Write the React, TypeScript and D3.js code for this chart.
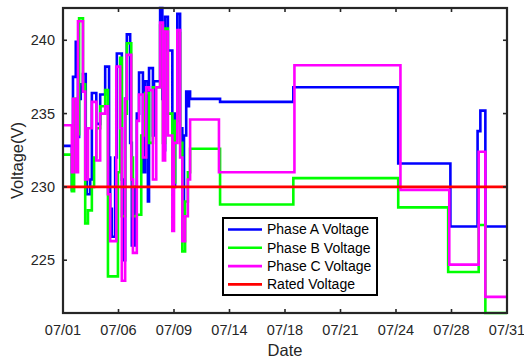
import React, { useRef, useEffect } from "react";
import * as d3 from "d3";

// x is measured in tick steps of 10 (0 = 07/01 ... 80 = 07/31)
const tickLabels = ["07/01", "07/06", "07/09", "07/14", "07/18", "07/21", "07/24", "07/28", "07/31"];
const yTicks = [225, 230, 235, 240];

const phaseA: [number, number][] = [
    [0, 232.8], [1.6, 229.8], [1.8, 237.5], [2.3, 239.9], [2.7, 233.4], [2.9, 236.0], [3.2, 237.0],
    [3.6, 237.7], [4.1, 233.0], [4.3, 229.5], [4.9, 230.5], [5.2, 236.4], [6.0, 234.3], [6.7, 236.3],
    [7.6, 238.2], [8.3, 232.0], [8.5, 228.5], [8.8, 226.6], [9.4, 232.0], [9.7, 239.1], [10.6, 230.5],
    [10.8, 225.0], [11.2, 236.0], [11.5, 240.4], [12.1, 233.0], [12.4, 226.0], [13.0, 230.0],
    [13.3, 235.0], [13.7, 237.8], [14.4, 231.0], [14.8, 237.2], [15.3, 229.0], [15.5, 238.1],
    [16.2, 233.5], [16.4, 237.2], [17.5, 242.2], [17.9, 236.0], [18.2, 232.5], [18.4, 241.6],
    [18.9, 239.3], [19.7, 231.5], [20.0, 230.0], [20.2, 235.0], [20.6, 241.8], [21.1, 234.0],
    [21.5, 228.0], [21.8, 233.5], [22.2, 236.5], [22.4, 235.5], [22.7, 236.5], [22.9, 236.0],
    [28.3, 235.8], [41.5, 236.8], [60.4, 231.6], [69.8, 227.3], [74.7, 233.8], [75.2, 235.2],
    [76.1, 227.3], [80, 227.3],
];

const phaseB: [number, number][] = [
    [0, 232.2], [1.6, 229.7], [2.0, 236.0], [2.3, 233.6], [2.9, 241.5], [3.6, 237.0], [4.0, 227.5],
    [4.5, 228.4], [5.2, 230.0], [5.6, 232.0], [6.0, 234.0], [6.7, 235.5], [7.6, 236.6], [8.1, 223.9],
    [9.9, 231.0], [10.3, 238.8], [10.6, 228.0], [11.2, 235.0], [11.5, 239.8], [12.3, 232.0],
    [12.6, 228.0], [13.3, 228.1], [14.1, 233.5], [14.8, 236.4], [15.5, 233.0], [16.2, 236.8],
    [17.5, 241.0], [18.0, 233.0], [18.4, 240.8], [18.9, 235.0], [19.7, 230.3], [20.2, 234.5],
    [20.6, 240.5], [21.1, 233.0], [21.5, 225.6], [22.0, 229.0], [22.5, 231.0], [22.9, 232.6],
    [28.3, 228.8], [41.5, 230.6], [60.4, 228.6], [69.4, 224.2], [74.9, 227.4], [76.1, 221.4],
    [80, 221.4],
];

const phaseC: [number, number][] = [
    [0, 234.2], [1.6, 231.0], [1.8, 236.0], [2.3, 231.0], [2.7, 241.3], [3.6, 236.5], [4.0, 230.5],
    [4.5, 234.0], [5.2, 235.8], [6.0, 231.8], [6.7, 235.0], [7.6, 235.5], [8.1, 229.5], [8.5, 226.3],
    [9.6, 238.2], [10.3, 234.0], [10.6, 223.6], [11.2, 236.0], [11.5, 239.0], [12.3, 230.5],
    [12.6, 225.5], [13.3, 234.5], [13.7, 236.3], [14.4, 232.0], [15.0, 236.8], [15.5, 236.6],
    [16.2, 230.5], [16.8, 236.8], [17.5, 241.2], [18.0, 231.8], [18.4, 240.6], [18.9, 233.5],
    [19.7, 227.0], [20.0, 233.0], [20.6, 240.7], [21.1, 232.0], [21.5, 226.3], [22.0, 228.0],
    [22.5, 230.5], [22.9, 234.6], [28.1, 231.0], [41.7, 238.3], [60.8, 229.8], [69.6, 224.7],
    [74.9, 232.4], [76.1, 222.5], [80, 222.5],
];

const rated: [number, number][] = [[0, 230], [80, 230]];

const seriesNames = ["Phase A Voltage", "Phase B Voltage", "Phase C Voltage", "Rated Voltage"];
const seriesColors = ["#0000ff", "#00ff00", "#ff00ff", "#ff0000"];

const FONT = "'Liberation Sans', Arial, Helvetica, sans-serif";

const VoltageChart = () => {
    const svgRef = useRef<SVGSVGElement>(null);

    useEffect(() => {
        const svg = d3.select(svgRef.current);
        svg.selectAll("*").remove();

        const margin = { top: 8, right: 17, bottom: 47, left: 63 };
        const width = 524;
        const height = 360;
        const innerW = width - margin.left - margin.right;
        const innerH = height - margin.top - margin.bottom;

        const x = d3.scaleLinear().domain([0, 80]).range([0, innerW]);
        const y = d3.scaleLinear().domain([221.4, 242.2]).range([innerH, 0]);

        const g = svg.append("g").attr("transform", `translate(${margin.left},${margin.top})`);

        svg.append("defs")
            .append("clipPath")
            .attr("id", "plotClip")
            .append("rect")
            .attr("x", -2)
            .attr("y", -2)
            .attr("width", innerW + 4)
            .attr("height", innerH + 4);

        const line = d3
            .line<[number, number]>()
            .x((d) => x(d[0]))
            .y((d) => y(d[1]))
            .curve(d3.curveStepAfter);

        const allSeries = [phaseA, phaseB, phaseC, rated];
        const plot = g.append("g").attr("clip-path", "url(#plotClip)");
        allSeries.forEach((s, i) => {
            plot.append("path")
                .datum(s)
                .attr("d", line)
                .attr("fill", "none")
                .attr("stroke", seriesColors[i])
                .attr("stroke-width", 2.6)
                .attr("stroke-linejoin", "miter");
        });

        const axisColor = "#262626";
        const xTickVals = d3.range(0, 81, 10);
        const tickLen = 4;

        // inward ticks, bottom and top
        xTickVals.forEach((v) => {
            g.append("line")
                .attr("x1", x(v)).attr("x2", x(v))
                .attr("y1", innerH).attr("y2", innerH - tickLen)
                .attr("stroke", axisColor).attr("stroke-width", 1.6);
            g.append("line")
                .attr("x1", x(v)).attr("x2", x(v))
                .attr("y1", 0).attr("y2", tickLen)
                .attr("stroke", axisColor).attr("stroke-width", 1.6);
        });
        yTicks.forEach((v) => {
            g.append("line")
                .attr("x1", 0).attr("x2", tickLen)
                .attr("y1", y(v)).attr("y2", y(v))
                .attr("stroke", axisColor).attr("stroke-width", 1.6);
            g.append("line")
                .attr("x1", innerW).attr("x2", innerW - tickLen)
                .attr("y1", y(v)).attr("y2", y(v))
                .attr("stroke", axisColor).attr("stroke-width", 1.6);
        });

        g.append("rect")
            .attr("width", innerW)
            .attr("height", innerH)
            .attr("fill", "none")
            .attr("stroke", axisColor)
            .attr("stroke-width", 2.2);

        g.selectAll(".xlab")
            .data(xTickVals)
            .enter()
            .append("text")
            .attr("x", (d) => x(d))
            .attr("y", innerH + 22)
            .attr("text-anchor", "middle")
            .attr("font-family", FONT)
            .attr("font-size", 14.5)
            .attr("fill", axisColor)
            .text((d, i) => tickLabels[i]);

        g.selectAll(".ylab")
            .data(yTicks)
            .enter()
            .append("text")
            .attr("x", -8)
            .attr("y", (d) => y(d))
            .attr("dy", "0.35em")
            .attr("text-anchor", "end")
            .attr("font-family", FONT)
            .attr("font-size", 14.5)
            .attr("fill", axisColor)
            .text((d) => d);

        svg.append("text")
            .attr("x", margin.left + innerW / 2)
            .attr("y", height - 4)
            .attr("text-anchor", "middle")
            .attr("font-family", FONT)
            .attr("font-size", 16.5)
            .attr("fill", axisColor)
            .text("Date");

        svg.append("text")
            .attr("transform", `translate(23,${margin.top + innerH / 2}) rotate(-90)`)
            .attr("text-anchor", "middle")
            .attr("font-family", FONT)
            .attr("font-size", 16.5)
            .attr("fill", axisColor)
            .text("Voltage(V)");

        // legend
        const legend = svg.append("g").attr("transform", "translate(223,218)");
        legend.append("rect")
            .attr("width", 154)
            .attr("height", 77)
            .attr("fill", "#ffffff")
            .attr("stroke", "#000000")
            .attr("stroke-width", 2);
        seriesNames.forEach((name, i) => {
            const ry = 11.5 + i * 18.3;
            legend.append("line")
                .attr("x1", 5).attr("x2", 39)
                .attr("y1", ry).attr("y2", ry)
                .attr("stroke", seriesColors[i])
                .attr("stroke-width", 2.6);
            legend.append("text")
                .attr("x", 44)
                .attr("y", ry)
                .attr("dy", "0.35em")
                .attr("font-family", FONT)
                .attr("font-size", 14)
                .attr("fill", "#000000")
                .text(name);
        });
    }, []);

    return (
        <svg
            ref={svgRef}
            width={524}
            height={360}
            style={{ position: "absolute", left: 0, top: 0, background: "#ffffff" }}
        />
    );
};

export default function App() {
    return <VoltageChart />;
}
